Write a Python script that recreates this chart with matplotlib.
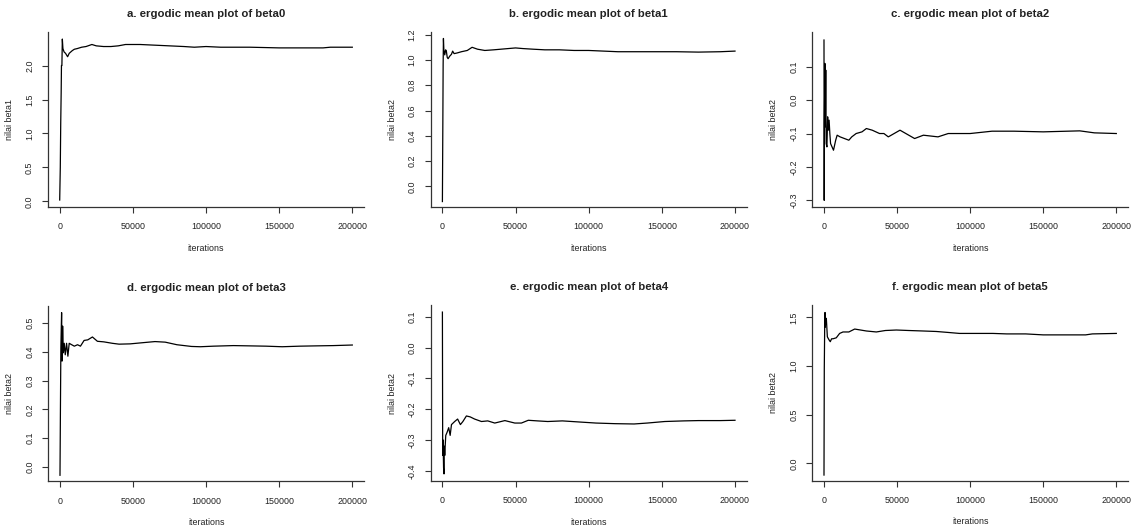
import matplotlib
matplotlib.use("Agg")
import matplotlib.pyplot as plt

plt.rcParams['font.family'] = ['Liberation Sans', 'DejaVu Sans']

# ---------------- data ----------------
titles = ["a. ergodic mean plot of beta0", "b. ergodic mean plot of beta1",
          "c. ergodic mean plot of beta2", "d. ergodic mean plot of beta3",
          "e. ergodic mean plot of beta4", "f. ergodic mean plot of beta5"]
ylabels = ["nilai beta1", "nilai beta2", "nilai beta2",
           "nilai beta2", "nilai beta2", "nilai beta2"]
xticks = [0, 50000, 100000, 150000, 200000]

iter_a = [0, 400, 700, 1000, 1200, 1500, 1800, 2200, 3000, 4000, 5400, 6500, 8600,
          10000, 12000, 15000, 18000, 22000, 25000, 30000, 35000, 40000, 45000,
          55000, 65000, 75000, 85000, 92000, 100000, 110000, 120000, 130000,
          140000, 150000, 165000, 180000, 185000, 200000]
val_a = [0.02, 0.5, 1.15, 1.6, 2.0, 2.0, 2.39, 2.25, 2.2, 2.18, 2.13, 2.18, 2.22,
         2.24, 2.25, 2.27, 2.28, 2.31, 2.29, 2.28, 2.28, 2.29, 2.31,
         2.31, 2.30, 2.29, 2.28, 2.27, 2.28, 2.27, 2.27, 2.27,
         2.265, 2.26, 2.26, 2.26, 2.27, 2.27]

iter_b = [0, 300, 500, 700, 1000, 1600, 2200, 2700, 3300, 3900, 5000, 6200, 7000,
          8000, 10000, 13000, 17000, 20300, 24000, 29000, 35000, 40000, 45000,
          50000, 55000, 62000, 70000, 80000, 90000, 100000, 110000, 120000,
          140000, 160000, 175000, 190000, 200000]
val_b = [-0.12, 0.5, 0.96, 1.17, 1.08, 1.04, 1.08, 1.07, 1.02, 1.01, 1.03, 1.045, 1.07,
         1.05, 1.055, 1.065, 1.075, 1.10, 1.085, 1.075, 1.08, 1.085, 1.09,
         1.095, 1.09, 1.085, 1.08, 1.08, 1.075, 1.075, 1.07, 1.065,
         1.065, 1.065, 1.062, 1.065, 1.07]

iter_c = [0, 150, 300, 600, 900, 1200, 1500, 2000, 2500, 3000, 3500, 4000, 4500,
          5500, 6500, 8000, 9000, 11000, 14000, 17000, 19000, 22000, 26000, 29000,
          33000, 38000, 41000, 44000, 48000, 52000, 56000, 62000, 68000, 78000,
          85000, 100000, 115000, 130000, 150000, 175000, 185000, 200000]
val_c = [0.18, -0.30, -0.07, 0.11, -0.08, 0.09, -0.13, -0.14, -0.05, -0.09, -0.06, -0.10, -0.13,
         -0.14, -0.15, -0.12, -0.105, -0.11, -0.115, -0.12, -0.11, -0.10, -0.095, -0.085,
         -0.09, -0.10, -0.10, -0.11, -0.10, -0.09, -0.10, -0.115, -0.105, -0.11,
         -0.10, -0.10, -0.093, -0.093, -0.095, -0.092, -0.098, -0.10]

iter_d = [0, 300, 600, 1100, 1400, 1800, 2300, 2900, 3600, 4500, 5400, 6300, 8000,
          9800, 12000, 14000, 16500, 19000, 22200, 25600, 30000, 35800, 40400, 48000,
          58500, 65000, 72000, 80000, 90000, 96000, 105000, 118600, 130000, 141000,
          152000, 164000, 175000, 187000, 200000]
val_d = [-0.03, 0.2, 0.414, 0.537, 0.368, 0.49, 0.397, 0.43, 0.39, 0.43, 0.385, 0.43, 0.425,
         0.42, 0.425, 0.42, 0.44, 0.442, 0.452, 0.437, 0.435, 0.43, 0.427, 0.428,
         0.433, 0.436, 0.434, 0.425, 0.419, 0.418, 0.42, 0.422, 0.421, 0.42,
         0.418, 0.42, 0.421, 0.422, 0.424]

iter_e = [0, 200, 450, 800, 1100, 1300, 1600, 1900, 2300, 3200, 4300, 5300, 6200,
          8400, 10400, 12300, 14000, 16400, 19000, 22000, 26700, 31000, 35800, 42700,
          49500, 54000, 58700, 65000, 72000, 82000, 95000, 105000, 118000, 131000,
          140000, 152000, 165000, 175000, 190000, 200000]
val_e = [0.115, -0.35, -0.30, -0.39, -0.41, -0.32, -0.35, -0.32, -0.285, -0.275, -0.26, -0.285, -0.25,
         -0.24, -0.232, -0.25, -0.24, -0.222, -0.225, -0.232, -0.24, -0.238, -0.245, -0.237,
         -0.245, -0.245, -0.236, -0.238, -0.24, -0.238, -0.242, -0.245, -0.247, -0.248,
         -0.245, -0.24, -0.238, -0.237, -0.237, -0.236]

iter_f = [0, 200, 500, 700, 900, 1100, 1600, 2300, 3400, 4300, 5200, 6200, 8400,
          10700, 13000, 17000, 21000, 25000, 29000, 35800, 42000, 49500, 58000, 67800,
          76800, 85000, 92700, 105000, 115500, 125000, 138000, 150000, 165000, 179000,
          183600, 200000]
val_f = [-0.12, 0.97, 1.44, 1.55, 1.40, 1.47, 1.49, 1.30, 1.27, 1.25, 1.28, 1.28, 1.29,
         1.335, 1.35, 1.35, 1.38, 1.37, 1.36, 1.35, 1.365, 1.37, 1.365, 1.36,
         1.355, 1.345, 1.335, 1.335, 1.335, 1.33, 1.33, 1.32, 1.32, 1.32,
         1.33, 1.335]

iters = [iter_a, iter_b, iter_c, iter_d, iter_e, iter_f]
vals = [val_a, val_b, val_c, val_d, val_e, val_f]
yticks = [[0.0, 0.5, 1.0, 1.5, 2.0],
          [0.0, 0.2, 0.4, 0.6, 0.8, 1.0, 1.2],
          [-0.3, -0.2, -0.1, 0.0, 0.1],
          [0.0, 0.1, 0.2, 0.3, 0.4, 0.5],
          [-0.4, -0.3, -0.2, -0.1, 0.0, 0.1],
          [0.0, 0.5, 1.0, 1.5]]
ylims = [(-0.083, 2.494), (-0.163, 1.221), (-0.32, 0.204),
         (-0.051, 0.560), (-0.433, 0.138), (-0.178, 1.627)]

# ---------------- layout (pixel boxes: left, right, top, bottom) ----------------
W, H = 1135, 529
boxes = [(48, 364, 32, 207), (430.7, 746.7, 32, 207), (812.3, 1128, 32, 207),
         (48.3, 364, 306, 481.3), (430.7, 746.7, 305, 481), (812.3, 1128, 305, 480.7)]

fig = plt.figure(figsize=(W / 100, H / 100), dpi=100)
fig.patch.set_facecolor('white')
tc = '#222222'

for i in range(6):
    l, r, t, b = boxes[i]
    ax = fig.add_axes([l / W, (H - b) / H, (r - l) / W, (b - t) / H])
    ax.plot(iters[i], vals[i], color='black', lw=0.9)
    ax.set_xlim(-8000, 208000)
    ax.set_ylim(*ylims[i])
    ax.set_xticks(xticks)
    ax.set_xticklabels([str(v) for v in xticks])
    ax.set_yticks(yticks[i])
    ax.set_yticklabels([f"{v:.1f}" for v in yticks[i]], rotation=90, va='center')
    for s in ['top', 'right']:
        ax.spines[s].set_visible(False)
    for s in ['left', 'bottom']:
        ax.spines[s].set_color('#333333')
        ax.spines[s].set_linewidth(0.9)
    ax.tick_params(axis='both', direction='out', length=4, width=0.8,
                   colors='#333333', labelsize=6.4, labelcolor=tc)
    ax.tick_params(axis='x', pad=7)
    ax.tick_params(axis='y', pad=6)
    ax.set_title(titles[i], fontsize=8.2, fontweight='bold', color=tc, pad=11)
    ax.set_xlabel("iterations", fontsize=6.4, color=tc, labelpad=9)
    ax.set_ylabel(ylabels[i], fontsize=6.4, color=tc, labelpad=8)

fig.savefig("out.png", dpi=100, facecolor='white')
